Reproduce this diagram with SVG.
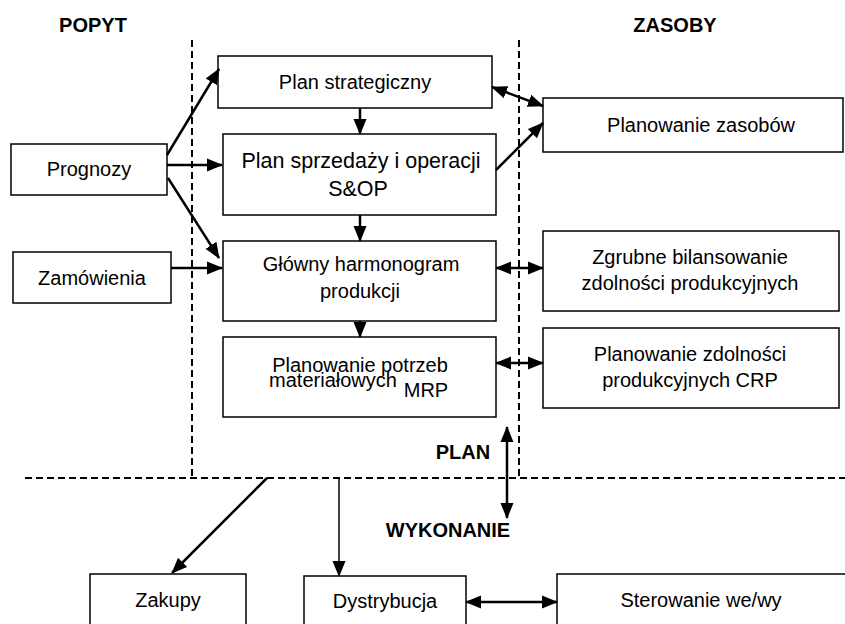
<svg xmlns="http://www.w3.org/2000/svg" width="845" height="624" viewBox="0 0 845 624">
<defs>
<style>
.box{fill:#fff;stroke:#000;stroke-width:1.5}
.t{font-family:"Liberation Sans",Arial,sans-serif;font-size:20px;fill:#000;text-anchor:middle}
.h{font-family:"Liberation Sans",Arial,sans-serif;font-size:20px;font-weight:bold;fill:#000;text-anchor:middle}
.dash{stroke:#000;stroke-width:2;stroke-dasharray:7,4;fill:none}
.c{stroke:#000;stroke-width:2.5;fill:none;marker-end:url(#ah)}
.d{stroke:#000;stroke-width:2.5;fill:none;marker-end:url(#ah);marker-start:url(#ah)}
</style>
<marker id="ah" markerUnits="userSpaceOnUse" markerWidth="17" markerHeight="14" refX="15" refY="7" orient="auto-start-reverse" viewBox="0 0 17 14">
<path d="M0,0.5 L16,7 L0,13.5 z" fill="#000"/>
</marker>
</defs>
<rect width="845" height="624" fill="#fff"/>
<g id="dividers">
<line class="dash" x1="192" y1="40" x2="192" y2="478"/>
<line class="dash" x1="519" y1="40" x2="519" y2="478"/>
<line class="dash" x1="25" y1="478" x2="845" y2="478"/>
</g>
<g id="labels">
<text class="h" x="93" y="32">POPYT</text>
<text class="h" x="675" y="32">ZASOBY</text>
<text class="h" x="463" y="459">PLAN</text>
<text class="h" x="448" y="537">WYKONANIE</text>
</g>
<g id="plan-strategiczny"><rect class="box" x="218" y="56" width="274" height="52"/><text class="t" x="355" y="89">Plan strategiczny</text></g>
<g id="planowanie-zasobow"><rect class="box" x="543" y="98" width="300" height="54"/><text class="t" x="701" y="132">Planowanie zasobów</text></g>
<g id="prognozy"><rect class="box" x="11" y="144" width="156" height="51"/><text class="t" x="89" y="176">Prognozy</text></g>
<g id="plan-sprzedazy"><rect class="box" x="223" y="134" width="273" height="81"/><text class="t" x="361" y="168" style="font-size:21.5px">Plan sprzedaży i operacji</text><text class="t" x="358" y="196" style="font-size:21.5px">S&amp;OP</text></g>
<g id="zamowienia"><rect class="box" x="13" y="252" width="158" height="51"/><text class="t" x="92" y="285">Zamówienia</text></g>
<g id="glowny-harmonogram"><rect class="box" x="223" y="241" width="273" height="80"/><text class="t" x="361" y="271">Główny harmonogram</text><text class="t" x="360" y="298">produkcji</text></g>
<g id="zgrubne"><rect class="box" x="543" y="231" width="296" height="80"/><text class="t" x="690" y="264">Zgrubne bilansowanie</text><text class="t" x="690" y="290">zdolności produkcyjnych</text></g>
<g id="planowanie-potrzeb"><rect class="box" x="223" y="337" width="273" height="80"/><text class="t" x="360" y="372">Planowanie potrzeb</text><text class="t" x="333" y="387">materiałowych</text><text class="t" x="426" y="397">MRP</text></g>
<g id="planowanie-zdolnosci"><rect class="box" x="543" y="328" width="296" height="80"/><text class="t" x="690" y="361">Planowanie zdolności</text><text class="t" x="690" y="387">produkcyjnych CRP</text></g>
<g id="zakupy"><rect class="box" x="90" y="574" width="156" height="60"/><text class="t" x="168" y="607">Zakupy</text></g>
<g id="dystrybucja"><rect class="box" x="304" y="576" width="162" height="60"/><text class="t" x="385" y="608">Dystrybucja</text></g>
<g id="sterowanie"><rect class="box" x="557" y="574" width="300" height="60"/><text class="t" x="701" y="607">Sterowanie we/wy</text></g>
<g id="connectors">
<line class="c" x1="167" y1="155" x2="219" y2="69"/>
<line class="c" x1="167" y1="165" x2="222" y2="165"/>
<line class="c" x1="168" y1="178" x2="219" y2="258"/>
<line class="c" x1="171" y1="268" x2="222" y2="268"/>
<line class="c" x1="360" y1="108" x2="360" y2="134"/>
<line class="c" x1="360" y1="215" x2="360" y2="241"/>
<line class="c" x1="360" y1="321" x2="360" y2="337"/>
<line class="d" x1="492" y1="87" x2="543" y2="106"/>
<line class="c" x1="496" y1="170" x2="543" y2="123"/>
<line class="d" x1="496" y1="268" x2="543" y2="268"/>
<line class="d" x1="496" y1="363" x2="543" y2="363"/>
<line class="d" x1="507" y1="427" x2="507" y2="518"/>
<line class="c" x1="267" y1="478" x2="172" y2="573"/>
<line class="c" x1="339" y1="478" x2="339" y2="576" style="stroke-width:1.5"/>
<line class="d" x1="466" y1="602" x2="557" y2="602"/>
</g>
</svg>
